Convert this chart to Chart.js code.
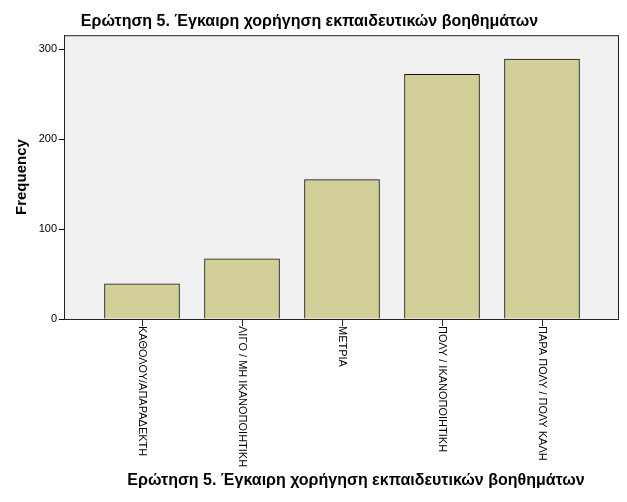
<!DOCTYPE html>
<html lang="en">
<head>
    <meta charset="UTF-8">
    <title>Ερώτηση 5</title>
    <script src="https://cdn.jsdelivr.net/npm/chart.js"></script>
    <style>
        * {
            margin: 0;
            padding: 0;
            box-sizing: border-box;
        }

        body {
            background-color: #fff;
        }

        .chart-box {
            width: 627px;
            height: 502px;
        }
    </style>
</head>
<body>
    <div class="chart-box">
        <canvas id="freqChart" width="627" height="502"></canvas>
    </div>

    <script>
        // Data
        const categories = [
            'ΚΑΘΟΛΟΥ/ΑΠΑΡΑΔΕΚΤΗ',
            'ΛΙΓΟ / ΜΗ ΙΚΑΝΟΠΟΙΗΤΙΚΗ',
            'ΜΕΤΡΙΑ',
            'ΠΟΛΥ / ΙΚΑΝΟΠΟΙΗΤΙΚΗ',
            'ΠΑΡΑ ΠΟΛΥ / ΠΟΛΥ ΚΑΛΗ'
        ];
        const frequencies = [39, 67, 155, 272, 289];
        const yTicks = [0, 100, 200, 300];

        const titleText = 'Ερώτηση 5. Έγκαιρη χορήγηση εκπαιδευτικών βοηθημάτων';
        const fontFamily = "'Liberation Sans', Arial, sans-serif";

        // plot background, frame, category ticks and labels, x title
        const spssFrame = {
            id: 'spssFrame',
            beforeDraw(chart) {
                const { ctx, chartArea: a } = chart;
                ctx.save();
                ctx.fillStyle = '#f0f0f0';
                ctx.fillRect(a.left, a.top, a.right - a.left, a.bottom - a.top);
                ctx.restore();
            },
            afterDraw(chart) {
                const { ctx, chartArea: a, scales } = chart;
                ctx.save();
                ctx.strokeStyle = '#222';
                ctx.lineWidth = 1;
                ctx.strokeRect(a.left + 0.5, a.top + 0.5, a.right - a.left - 1, a.bottom - a.top);

                ctx.fillStyle = '#000';
                ctx.font = '11px ' + fontFamily;
                categories.forEach((label, i) => {
                    const x = Math.round(scales.x.getPixelForValue(i)) + 0.5;
                    ctx.beginPath();
                    ctx.moveTo(x, a.bottom);
                    ctx.lineTo(x, a.bottom + 7);
                    ctx.stroke();

                    ctx.save();
                    ctx.translate(x, a.bottom + 7);
                    ctx.rotate(Math.PI / 2);
                    ctx.textAlign = 'left';
                    ctx.textBaseline = 'middle';
                    ctx.fillText(label, 0, 0);
                    ctx.restore();
                });

                ctx.font = 'bold 16px ' + fontFamily;
                ctx.textAlign = 'center';
                ctx.textBaseline = 'middle';
                ctx.fillText(titleText, 356, 481);
                ctx.restore();
            }
        };

        const ctx = document.getElementById('freqChart').getContext('2d');

        new Chart(ctx, {
            type: 'bar',
            data: {
                datasets: [{
                    label: 'Frequency',
                    data: frequencies.map((v, i) => ({ x: i, y: v })),
                    backgroundColor: '#d3cf98',
                    borderColor: '#111',
                    borderWidth: 1,
                    borderSkipped: 'bottom',
                    barThickness: 75
                }]
            },
            options: {
                responsive: false,
                animation: false,
                layout: {
                    padding: { left: 0, right: 8, top: 0, bottom: 0 }
                },
                plugins: {
                    legend: { display: false },
                    tooltip: { enabled: false },
                    title: {
                        display: true,
                        text: titleText,
                        color: '#000',
                        font: { family: fontFamily, size: 16, weight: 'bold' },
                        padding: { top: 12, bottom: 4 }
                    }
                },
                scales: {
                    x: {
                        type: 'linear',
                        offset: false,
                        min: -0.78,
                        max: 4.77,
                        grid: { display: false },
                        border: { display: false },
                        ticks: { display: false },
                        afterFit(scale) { scale.height = 183; }
                    },
                    y: {
                        min: 0,
                        max: 315.6,
                        afterBuildTicks(scale) {
                            scale.ticks = yTicks.map(v => ({ value: v }));
                        },
                        afterFit(scale) { scale.width = 64; },
                        ticks: {
                            color: '#000',
                            padding: 2,
                            font: { family: fontFamily, size: 11 }
                        },
                        grid: {
                            display: true,
                            drawOnChartArea: false,
                            drawTicks: true,
                            tickLength: 5,
                            color: '#000'
                        },
                        border: { display: true, color: '#222' },
                        title: {
                            display: true,
                            text: 'Frequency',
                            color: '#000',
                            padding: { top: 13, bottom: 8 },
                            font: { family: fontFamily, size: 15, weight: 'bold' }
                        }
                    }
                }
            },
            plugins: [spssFrame]
        });
    </script>
</body>
</html>
